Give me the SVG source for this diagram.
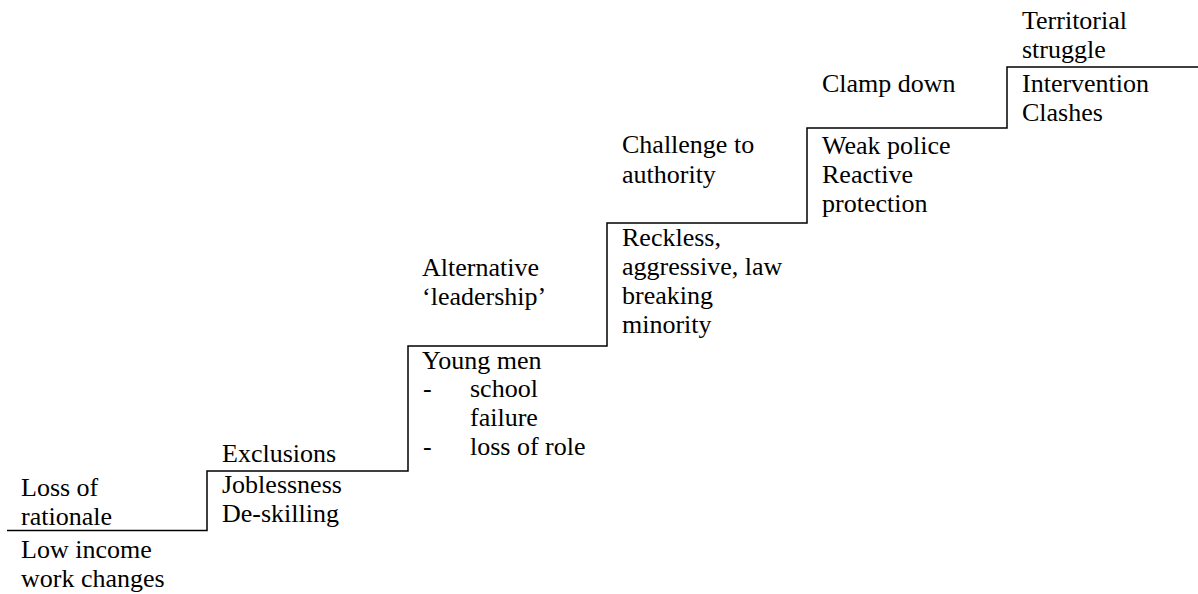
<svg xmlns="http://www.w3.org/2000/svg" width="1198" height="594" viewBox="0 0 1198 594">
<style>
.stair { fill: none; stroke: #000; stroke-width: 1.5; }
</style>
<rect width="1198" height="594" fill="#fff"/>
<g id="connectors">
<path class="stair" d="M7,530.5 H207 V471 H408 V346 H607 V223 H807 V128 H1007 V67 H1198"/>
</g>
<text id="step1-above" font-family="Times New Roman, serif" font-size="26"><tspan x="21" y="496">Loss of</tspan><tspan x="21" y="525">rationale</tspan></text>
<text id="step1-below" font-family="Times New Roman, serif" font-size="26"><tspan x="21" y="558">Low income</tspan><tspan x="21" y="587">work changes</tspan></text>
<text id="step2-above" font-family="Times New Roman, serif" font-size="26"><tspan x="222" y="462">Exclusions</tspan></text>
<text id="step2-below" font-family="Times New Roman, serif" font-size="26"><tspan x="222" y="493">Joblessness</tspan><tspan x="222" y="522">De-skilling</tspan></text>
<text id="step3-above" font-family="Times New Roman, serif" font-size="26"><tspan x="422" y="276">Alternative</tspan><tspan x="422" y="305">‘leadership’</tspan></text>
<text id="step3-below" font-family="Times New Roman, serif" font-size="26"><tspan x="422" y="369">Young men</tspan><tspan x="423" y="397">-</tspan><tspan x="470" y="397">school</tspan><tspan x="470" y="426">failure</tspan><tspan x="423" y="455">-</tspan><tspan x="470" y="455">loss of role</tspan></text>
<text id="step4-above" font-family="Times New Roman, serif" font-size="26"><tspan x="622" y="153">Challenge to</tspan><tspan x="622" y="183">authority</tspan></text>
<text id="step4-below" font-family="Times New Roman, serif" font-size="26"><tspan x="622" y="246">Reckless,</tspan><tspan x="622" y="275">aggressive, law</tspan><tspan x="622" y="304">breaking</tspan><tspan x="622" y="333">minority</tspan></text>
<text id="step5-above" font-family="Times New Roman, serif" font-size="26"><tspan x="822" y="92">Clamp down</tspan></text>
<text id="step5-below" font-family="Times New Roman, serif" font-size="26"><tspan x="822" y="154">Weak police</tspan><tspan x="822" y="183">Reactive</tspan><tspan x="822" y="212">protection</tspan></text>
<text id="step6-above" font-family="Times New Roman, serif" font-size="26"><tspan x="1022" y="29">Territorial</tspan><tspan x="1022" y="58">struggle</tspan></text>
<text id="step6-below" font-family="Times New Roman, serif" font-size="26"><tspan x="1022" y="92">Intervention</tspan><tspan x="1022" y="121">Clashes</tspan></text>
</svg>
